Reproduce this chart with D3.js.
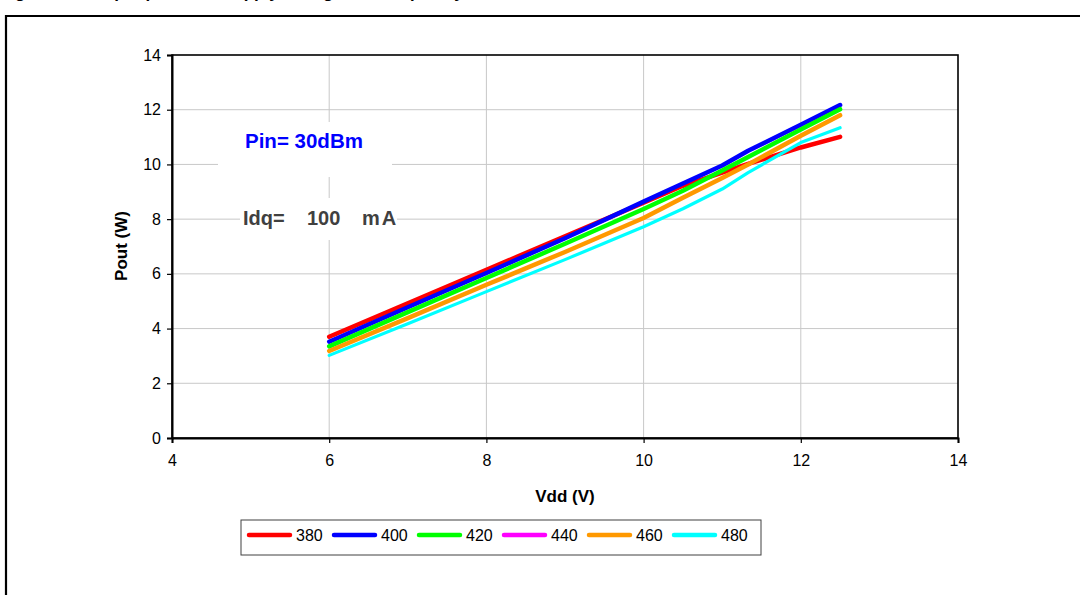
<!DOCTYPE html>
<html><head><meta charset="utf-8">
<script src="https://cdn.jsdelivr.net/npm/d3@7"></script>
<style>
html,body{margin:0;padding:0;background:#fff;}
svg{display:block;font-family:Arial,"Liberation Sans",sans-serif;}
</style></head>
<body>
<svg id="chart" width="1080" height="595"></svg>
<script>
// ---- data ----
const vdd = [6, 7, 8, 9, 10, 10.5, 11, 11.33, 12, 12.5];
const seriesNames = ["380", "400", "420", "440", "460", "480"];
const pout380 = [3.70, 4.92, 6.15, 7.37, 8.60, 9.22, 9.70, 10.02, 10.62, 11.01];
const pout400 = [3.52, 4.78, 6.03, 7.30, 8.64, 9.30, 9.96, 10.50, 11.45, 12.17];
const pout420 = [3.35, 4.60, 5.85, 7.10, 8.37, 9.04, 9.78, 10.27, 11.28, 12.02];
const pout440 = [];
const pout460 = [3.18, 4.38, 5.60, 6.80, 8.04, 8.78, 9.50, 10.00, 11.05, 11.80];
const pout480 = [3.02, 4.18, 5.35, 6.52, 7.72, 8.38, 9.10, 9.70, 10.80, 11.34];
const xTicks = [4, 6, 8, 10, 12, 14];
const yTicks = [0, 2, 4, 6, 8, 10, 12, 14];
const titleText = "Figure 14. Output power vs supply voltage and frequency";
const pinText = "Pin= 30dBm";
const idqParts = ["Idq=", "100", "mA"];

const colors = ["#ff0000", "#0000ff", "#00ff00", "#ff00ff", "#ff9900", "#00ffff"];
const widths = [4.5, 4.5, 4.5, 4.5, 4.5, 3.2];
const allValues = [pout380, pout400, pout420, pout440, pout460, pout480];

const svg = d3.select("#chart");

// partially cut title and outer frame
svg.append("text").attr("x", 0).attr("y", -2.5)
  .attr("font-size", 17).attr("font-weight", "bold").text(titleText);
svg.append("path").attr("d", "M6,1000 V16 H1090")
  .attr("fill", "none").attr("stroke", "#000").attr("stroke-width", 2.2);

const x = d3.scaleLinear().domain([4, 14]).range([172, 958]);
const y = d3.scaleLinear().domain([0, 14]).range([438, 55]);

// gridlines
const grid = svg.append("g").attr("stroke", "#c8c8c8").attr("stroke-width", 1);
grid.selectAll("line.v").data(xTicks.slice(1, -1)).join("line")
  .attr("x1", d => x(d)).attr("x2", d => x(d)).attr("y1", y(14)).attr("y2", y(0));
grid.selectAll("line.h").data(yTicks.slice(1, -1)).join("line")
  .attr("y1", d => y(d)).attr("y2", d => y(d)).attr("x1", x(4)).attr("x2", x(14));

// white annotation boxes (covering gridlines)
svg.append("rect").attr("x", 218).attr("y", 122).attr("width", 174).attr("height", 55).attr("fill", "#fff");
svg.append("rect").attr("x", 240).attr("y", 198).attr("width", 157).attr("height", 42).attr("fill", "#fff");

// plot border
svg.append("rect").attr("x", x(4)).attr("y", y(14)).attr("width", x(14) - x(4)).attr("height", y(0) - y(14))
  .attr("fill", "none").attr("stroke", "#000").attr("stroke-width", 1.6);

// axes
const xAxis = svg.append("g").attr("transform", `translate(0,${y(0)})`)
  .call(d3.axisBottom(x).tickValues(xTicks).tickSize(5).tickPadding(12).tickFormat(d3.format("d")));
const yAxis = svg.append("g").attr("transform", `translate(${x(4)},0)`)
  .call(d3.axisLeft(y).tickValues(yTicks).tickSize(5).tickPadding(6).tickFormat(d3.format("d")));
[xAxis, yAxis].forEach(a => {
  a.select(".domain").attr("stroke", "#000").attr("stroke-width", 2);
  a.selectAll(".tick line").attr("stroke", "#000").attr("stroke-width", 1.2);
  a.selectAll(".tick text").attr("font-size", 16).attr("fill", "#000")
    .attr("font-family", "Arial,'Liberation Sans',sans-serif");
});

// axis titles
svg.append("text").attr("x", 565).attr("y", 502).attr("text-anchor", "middle")
  .attr("font-size", 17).attr("font-weight", "bold").text("Vdd (V)");
svg.append("text").attr("transform", "translate(127,246) rotate(-90)").attr("text-anchor", "middle")
  .attr("font-size", 17).attr("font-weight", "bold").text("Pout (W)");

// annotations
svg.append("text").attr("x", 245).attr("y", 148).attr("font-size", 20.5).attr("font-weight", "bold")
  .attr("fill", "#0000ff").text(pinText);
const idq = svg.append("text").attr("y", 225).attr("font-size", 20).attr("font-weight", "bold").attr("fill", "#404040");
idq.append("tspan").attr("x", 243).text(idqParts[0]);
idq.append("tspan").attr("x", 307).text(idqParts[1]);
idq.append("tspan").attr("x", 362).attr("letter-spacing", 2).text(idqParts[2]);

// series lines
const line = d3.line().x(d => x(d[0])).y(d => y(d[1]));
allValues.forEach((vals, i) => {
  if (!vals.length) return;
  svg.append("path").datum(vals.map((v, j) => [vdd[j], v]))
    .attr("d", line).attr("fill", "none").attr("stroke", colors[i])
    .attr("stroke-width", widths[i]).attr("stroke-linecap", "round").attr("stroke-linejoin", "round");
});

// legend
const lg = svg.append("g");
lg.append("rect").attr("x", 241).attr("y", 520).attr("width", 520).attr("height", 35)
  .attr("fill", "#fff").attr("stroke", "#404040").attr("stroke-width", 1);
const lx = d3.scalePoint().domain(seriesNames).range([247, 672]);
seriesNames.forEach((name, i) => {
  const gx = lx(name);
  lg.append("line").attr("x1", gx + 2).attr("x2", gx + 43).attr("y1", 535).attr("y2", 535)
    .attr("stroke", colors[i]).attr("stroke-width", 4.5).attr("stroke-linecap", "round");
  lg.append("text").attr("x", gx + 49).attr("y", 541).attr("font-size", 16).text(name);
});
</script>
</body></html>
